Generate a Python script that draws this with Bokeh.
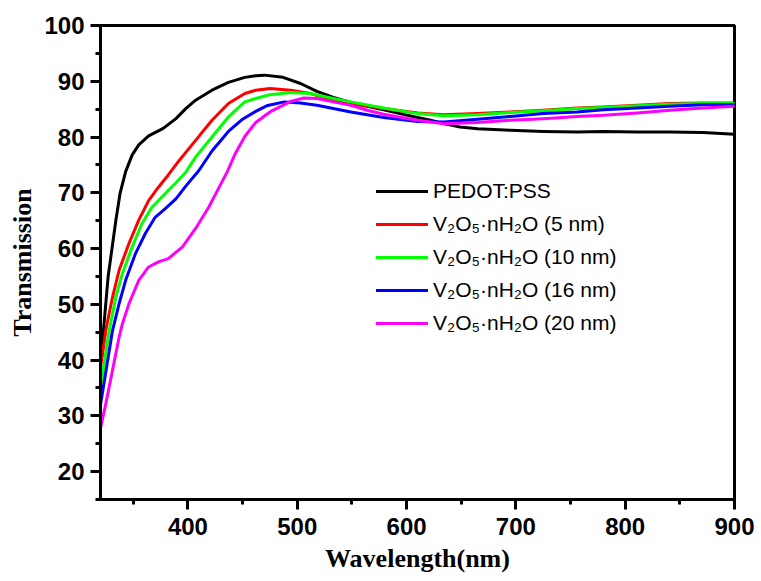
from bokeh.plotting import figure
from bokeh.models import Range1d, SingleIntervalTicker, Legend, LegendItem
from bokeh.embed import file_html
from bokeh.resources import INLINE

# ---- data ----
wl_pedot = [320, 323, 327, 334, 338, 343, 349, 355, 364, 377, 381, 389, 398, 407, 422, 437, 452, 462, 470,
            487, 503, 518, 533, 549, 564, 579, 594, 610, 622, 634, 649, 665, 695, 725, 756, 780, 811, 841, 871, 900]
t_pedot = [40, 46, 55, 65, 70, 73.8, 76.8, 78.6, 80.2, 81.5, 82.1, 83.3, 85.1, 86.6, 88.4, 89.8, 90.7, 91.0, 91.1,
           90.7, 89.6, 88.2, 87.1, 86.2, 85.5, 84.9, 84.2, 83.5, 83.0, 82.4, 81.8, 81.5, 81.2, 81.0, 80.9, 81.0,
           80.9, 80.9, 80.8, 80.5]

wl_5nm = [320, 325, 331, 337, 346, 355, 364, 373, 382, 392, 407, 422, 437, 452, 462, 475, 494, 512, 533, 549,
          579, 610, 634, 665, 695, 725, 756, 780, 811, 841, 871, 900]
t_5nm = [38.5, 45.5, 51.3, 56.1, 60.9, 65.1, 68.6, 71.0, 73.2, 75.8, 79.4, 83.0, 86.0, 87.8, 88.4, 88.7, 88.4,
         87.8, 86.6, 86.0, 85.1, 84.3, 84.0, 84.2, 84.5, 84.8, 85.2, 85.4, 85.7, 86.0, 86.1, 86.1]

wl_10nm = [320, 328, 334, 340, 349, 358, 367, 376, 389, 398, 407, 422, 437, 452, 462, 475, 494, 512, 533, 549,
           579, 610, 634, 665, 695, 725, 756, 780, 811, 841, 871, 900]
t_10nm = [35, 45.3, 51.3, 55.5, 60.3, 64.5, 67.4, 69.2, 71.8, 73.7, 76.4, 80.0, 83.6, 86.3, 86.9, 87.6, 88.0,
          87.8, 86.9, 86.3, 85.2, 84.2, 83.8, 84.0, 84.4, 84.7, 85.1, 85.3, 85.6, 85.9, 86.0, 86.0]

wl_16nm = [320, 331, 337, 343, 352, 361, 370, 379, 389, 398, 410, 422, 437, 450, 462, 472, 488, 503, 518, 533,
           549, 579, 610, 634, 665, 695, 725, 756, 780, 811, 841, 871, 900]
t_16nm = [32, 45.3, 50.1, 54.3, 59.1, 62.7, 65.6, 67.1, 68.9, 71.2, 74.0, 77.5, 81.0, 83.2, 84.6, 85.6, 86.3,
          86.1, 85.7, 85.1, 84.5, 83.5, 82.8, 82.7, 83.2, 83.7, 84.2, 84.5, 84.9, 85.2, 85.5, 85.8, 85.8]

wl_20nm = [320, 325, 331, 337, 340, 346, 355, 364, 373, 382, 395, 407, 419, 428, 436, 443, 452, 462, 475, 494,
           506, 518, 533, 549, 564, 579, 610, 634, 665, 695, 725, 756, 780, 811, 841, 871, 900]
t_20nm = [27.8, 32.3, 38.2, 44.1, 46.5, 50.1, 54.3, 56.7, 57.6, 58.2, 60.3, 63.6, 67.4, 70.8, 73.8, 76.9, 80.1,
          82.6, 84.5, 86.4, 87.0, 86.9, 86.3, 85.7, 84.8, 84.1, 83.0, 82.4, 82.6, 83.0, 83.3, 83.7, 83.9, 84.3,
          84.8, 85.2, 85.5]

labels = ["PEDOT:PSS",
          "V\u2082O\u2085\u00b7nH\u2082O (5 nm)",
          "V\u2082O\u2085\u00b7nH\u2082O (10 nm)",
          "V\u2082O\u2085\u00b7nH\u2082O (16 nm)",
          "V\u2082O\u2085\u00b7nH\u2082O (20 nm)"]
colors = ["#000000", "#ff0000", "#00ff00", "#0000ff", "#ff00ff"]
series = [(wl_pedot, t_pedot), (wl_5nm, t_5nm), (wl_10nm, t_10nm), (wl_16nm, t_16nm), (wl_20nm, t_20nm)]

p = figure(width=761, height=581, output_backend="svg", toolbar_location=None,
           x_range=Range1d(320, 900), y_range=Range1d(15, 100),
           min_border_left=100, min_border_right=27, min_border_top=25, min_border_bottom=82)
p.background_fill_color = "white"
p.border_fill_color = "white"
p.outline_line_color = "black"
p.outline_line_width = 3
p.xgrid.visible = False
p.ygrid.visible = False

items = []
for (xs, ys), c, lab in zip(series, colors, labels):
    r = p.line(xs, ys, line_color=c, line_width=3, line_join="round", line_cap="round")
    items.append(LegendItem(label=lab, renderers=[r]))

for ax in (p.xaxis[0], p.yaxis[0]):
    ax.axis_line_width = 3
    ax.axis_line_color = "black"
    ax.major_tick_line_width = 3
    ax.minor_tick_line_width = 3
    ax.major_tick_in = 0
    ax.major_tick_out = 10
    ax.minor_tick_in = 0
    ax.minor_tick_out = 5
    ax.major_label_text_font = "Liberation Sans"
    ax.major_label_text_font_style = "bold"
    ax.major_label_text_font_size = "24px"
    ax.major_label_text_color = "black"
    ax.axis_label_text_font = "Liberation Serif"
    ax.axis_label_text_font_style = "bold"
    ax.axis_label_text_font_size = "26px"
    ax.axis_label_text_color = "black"

p.xaxis[0].ticker = SingleIntervalTicker(interval=100, num_minor_ticks=2)
p.yaxis[0].ticker = SingleIntervalTicker(interval=10, num_minor_ticks=2)
p.xaxis[0].axis_label = "Wavelength(nm)"
p.yaxis[0].axis_label = "Transmission"
p.xaxis[0].major_label_standoff = 8
p.yaxis[0].major_label_standoff = 6
p.xaxis[0].axis_label_standoff = 6
p.yaxis[0].axis_label_standoff = 4

legend = Legend(items=items, location=(276, 163), orientation="vertical",
                label_text_font="Liberation Sans", label_text_font_size="21px",
                label_text_color="black", glyph_width=52, glyph_height=26, label_height=26,
                label_standoff=5, spacing=7, padding=0, margin=0,
                border_line_alpha=0, background_fill_alpha=0)
p.add_layout(legend, "center")

open("out.html", "w").write(file_html(p, INLINE))
